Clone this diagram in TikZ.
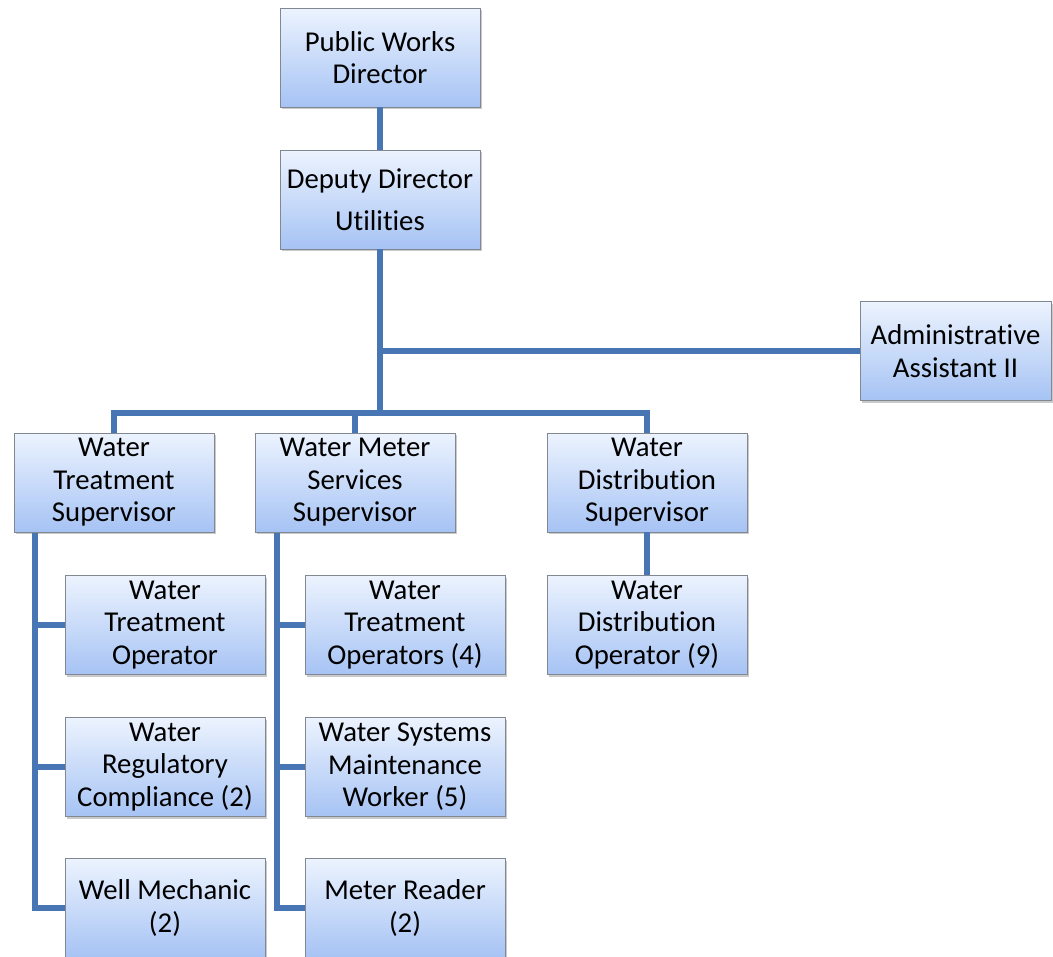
\documentclass[tikz,border=0pt]{standalone}
\usepackage{fontspec}
\setmainfont[Ligatures=NoCommon]{Carlito}
\usetikzlibrary{shadows}
\definecolor{boxtop}{RGB}{236,243,254}
\definecolor{boxbot}{RGB}{166,195,244}
\definecolor{boxline}{RGB}{130,136,146}
\definecolor{linkblue}{RGB}{72,118,180}
\tikzset{
  post/.style={draw=boxline, line width=0.5pt, top color=boxtop, bottom color=boxbot,
    minimum width=113.4pt, minimum height=56.1pt, inner sep=1pt, align=center,
    font=\fontsize{16.3}{18.4}\selectfont,
    drop shadow={shadow xshift=1.2pt, shadow yshift=-1.4pt, opacity=0.35, fill=black!60}},
  link/.style={draw=linkblue, line width=3.4pt}
}
\begin{document}
\begin{tikzpicture}[x=0.567pt,y=-0.567pt]
\useasboundingbox (0,0) rectangle (1053,957);
\clip (0,0) rectangle (1053,957);
% top management
\node[post] (pwd) at (380,57.5) {Public Works\\Director};
\node[post, font=\fontsize{16.3}{24}\selectfont] (ddu) at (380,199.5) {Deputy Director\\Utilities};
\node[post, minimum width=108.3pt] (aa) at (955.5,351) {Administrative\\Assistant II};
% supervisors
\node[post] (wts) at (114,482.5) {Water\\Treatment\\Supervisor};
\node[post] (wmss) at (355,482.5) {Water Meter\\Services\\Supervisor};
\node[post] (wds) at (647,482.5) {Water\\Distribution\\Supervisor};
% treatment staff
\node[post] (wto) at (165,625) {Water\\Treatment\\Operator};
\node[post] (wrc) at (165,767) {Water\\Regulatory\\Compliance (2)};
\node[post] (wm) at (165,908) {Well Mechanic\\(2)};
% meter services staff
\node[post] (wtos) at (405,625) {Water\\Treatment\\Operators (4)};
\node[post] (wsmw) at (405,767) {Water Systems\\Maintenance\\Worker (5)};
\node[post] (mr) at (405,908) {Meter Reader\\(2)};
% distribution staff
\node[post] (wdo) at (647,625) {Water\\Distribution\\Operator (9)};
% connectors
\coordinate (bar) at (380,413);
\coordinate (lspine) at (35,532.5);
\coordinate (mspine) at (277,532.5);
\draw[link] (pwd.south) -- (ddu.north);
\draw[link] (ddu.south) -- (bar);
\draw[link] (ddu.south |- aa.west) -- (aa.west);
\draw[link] (wts.north) -- (wts.north |- bar) -- (wds.north |- bar) -- (wds.north);
\draw[link] (wmss.north) -- (wmss.north |- bar);
\draw[link] (wds.south) -- (wdo.north);
\draw[link] (lspine) |- (wm.west);
\draw[link] (lspine |- wto.west) -- (wto.west);
\draw[link] (lspine |- wrc.west) -- (wrc.west);
\draw[link] (mspine) |- (mr.west);
\draw[link] (mspine |- wtos.west) -- (wtos.west);
\draw[link] (mspine |- wsmw.west) -- (wsmw.west);
\end{tikzpicture}
\end{document}
